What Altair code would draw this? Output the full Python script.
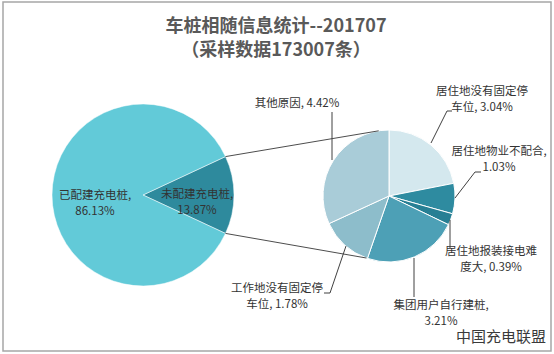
import math
import altair as alt
import pandas as pd

FONT = "Noto Sans CJK SC"

# ---------------- data ----------------
title_lines = ["车桩相随信息统计--201707", "（采样数据173007条）"]

main_labels = ["未配建充电桩", "已配建充电桩"]
main_values = [13.87, 86.13]
main_colors = ["#2E8A9D", "#62CAD8"]

sub_labels = ["居住地没有固定停车位", "居住地物业不配合", "居住地报装接电难度大",
              "集团用户自行建桩", "工作地没有固定停车位", "其他原因"]
sub_values = [3.04, 1.03, 0.39, 3.21, 1.78, 4.42]
sub_colors = ["#D4E8EE", "#2E8BA0", "#277F94", "#4DA0B6", "#8DBDCB", "#A9CCD8"]

label_texts = [
    "已配建充电桩,\n86.13%",
    "未配建充电桩,\n13.87%",
    "其他原因, 4.42%",
    "居住地没有固定停\n车位, 3.04%",
    "居住地物业不配合,\n1.03%",
    "居住地报装接电难\n度大, 0.39%",
    "集团用户自行建桩,\n3.21%",
    "工作地没有固定停\n车位, 1.78%",
]

# ---------------- layout (pixels) ----------------
W, H = 554, 354
C1, R1 = (143, 195), 91
C2, R2 = (389, 196), 66
label_pos = [(95, 190), (197, 189), (297, 98), (482, 86), (499, 146),
             (491, 246), (441, 300), (277, 283)]
leaders = [
    [(332, 112), (332, 160)],
    [(452, 111), (447, 111), (431, 143)],
    [(481, 172), (475, 172), (455, 198)],
    [(450, 220), (450, 248)],
    [(414, 258), (414, 297)],
    [(324, 293), (330, 293), (346, 246)],
]

xs = alt.Scale(domain=[0, W], range=[0, W])
ys = alt.Scale(domain=[0, H], reverse=True)

# main pie: small slice centered on the right (3 o'clock)
start = math.pi / 2 - main_values[0] / 100 * math.pi
main_df = pd.DataFrame({"name": main_labels, "v": main_values, "i": range(len(main_labels))})
main_pie = alt.Chart(main_df).mark_arc(outerRadius=R1, stroke="white", strokeWidth=0.5).encode(
    x=alt.value(C1[0]), y=alt.value(C1[1]),
    theta=alt.Theta("v:Q", stack=True, scale=alt.Scale(range=[start, start + 2 * math.pi])),
    color=alt.Color("name:N", scale=alt.Scale(domain=main_labels, range=main_colors), legend=None),
    order=alt.Order("i:Q"),
)

sub_df = pd.DataFrame({"name": sub_labels, "v": sub_values, "i": range(len(sub_labels))})
sub_pie = alt.Chart(sub_df).mark_arc(outerRadius=R2, stroke="white", strokeWidth=1).encode(
    x=alt.value(C2[0]), y=alt.value(C2[1]),
    theta=alt.Theta("v:Q", stack=True, scale=alt.Scale(range=[0, 2 * math.pi])),
    color=alt.Color("name:N", scale=alt.Scale(domain=sub_labels, range=sub_colors), legend=None),
    order=alt.Order("i:Q"),
)

# connector lines between the pies (from the split slice's edges)
a0 = start
a1 = start + main_values[0] / 100 * 2 * math.pi
b0 = math.radians(-9)
b1 = math.radians(200)
def pt(c, r, a):
    return c[0] + r * math.sin(a), c[1] - r * math.cos(a)
p0, p1 = pt(C1, R1, a0), pt(C1, R1, a1)
q0, q1 = pt(C2, R2, b0), pt(C2, R2, b1)
conn_df = pd.DataFrame({"x": [p0[0], p1[0]], "y": [p0[1], p1[1]],
                        "x2": [q0[0], q1[0]], "y2": [q0[1], q1[1]]})
connectors = alt.Chart(conn_df).mark_rule(color="#4D4D4D", strokeWidth=1).encode(
    x=alt.X("x:Q", scale=xs, axis=None), y=alt.Y("y:Q", scale=ys, axis=None),
    x2="x2:Q", y2="y2:Q",
)

rows = []
for k, seg in enumerate(leaders):
    for j, (x, y) in enumerate(seg):
        rows.append({"g": k, "o": j, "x": x, "y": y})
lead_df = pd.DataFrame(rows)
leader_lines = alt.Chart(lead_df).mark_line(color="#404040", strokeWidth=1).encode(
    x=alt.X("x:Q", scale=xs, axis=None), y=alt.Y("y:Q", scale=ys, axis=None),
    detail="g:N", order="o:Q",
)

lab_df = pd.DataFrame({"t": label_texts,
                       "x": [p[0] for p in label_pos], "y": [p[1] for p in label_pos]})
labels = alt.Chart(lab_df).mark_text(font=FONT, fontSize=11.5, color="#333333",
                                     lineBreak="\n", lineHeight=16, baseline="top",
                                     align="center").encode(
    x=alt.X("x:Q", scale=xs, axis=None), y=alt.Y("y:Q", scale=ys, axis=None), text="t:N",
)

title_df = pd.DataFrame({"t": title_lines, "x": [276, 276], "y": [27, 51]})
title = alt.Chart(title_df).mark_text(font=FONT, fontSize=18, fontWeight="bold",
                                      color="#595959", baseline="middle").encode(
    x=alt.X("x:Q", scale=xs, axis=None), y=alt.Y("y:Q", scale=ys, axis=None), text="t:N",
)

wm = alt.Chart(pd.DataFrame({"t": ["中国充电联盟"]})).mark_text(
    font=FONT, fontSize=15, color="#3A3A3A", baseline="middle", align="center").encode(
    x=alt.value(501), y=alt.value(337), text="t:N")

border = alt.Chart(pd.DataFrame({"a": [0]})).mark_rect(
    filled=False, stroke="#A6A6A6", strokeWidth=1.5).encode(
    x=alt.value(3), x2=alt.value(551), y=alt.value(2), y2=alt.value(351))

chart = alt.layer(
    main_pie, sub_pie, connectors, leader_lines, labels, title, wm, border
).resolve_scale(theta="independent", color="independent").properties(
    width=W, height=H, padding=0, autosize=alt.AutoSizeParams(type="none"),
    background="white",
).configure_view(stroke=None)

chart.save("out.html", embed_options={"renderer": "svg", "actions": False})
